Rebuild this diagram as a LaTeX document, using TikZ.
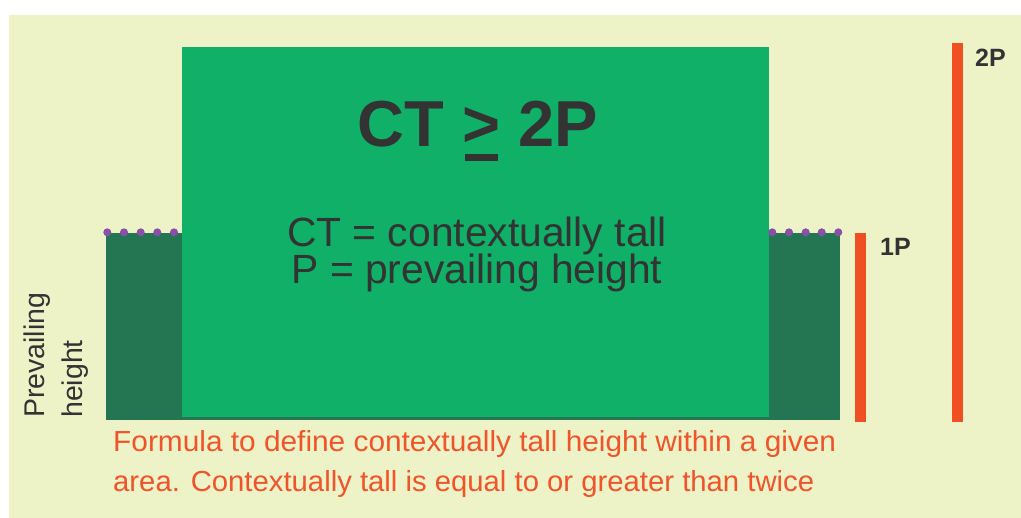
\documentclass[tikz,border=0pt]{standalone}
\usepackage{fontspec}
\usepackage{graphicx}
\setmainfont{Liberation Sans}
\definecolor{bgc}{RGB}{237,242,199}
\definecolor{maingreen}{RGB}{16,176,104}
\definecolor{darkgreen}{RGB}{36,117,82}
\definecolor{barorange}{RGB}{240,78,35}
\definecolor{txtorange}{RGB}{239,84,42}
\definecolor{dotpurple}{RGB}{138,80,168}
\definecolor{txtdark}{RGB}{51,51,51}
\tikzset{
  blockfill/.style={fill=#1, draw=none},
  dotmark/.style={fill=dotpurple, draw=none},
  barfill/.style={fill=barorange, draw=none},
  darktext/.style={text=txtdark, inner sep=0pt},
  orangetext/.style={text=txtorange, inner sep=0pt, anchor=base west, font=\fontsize{29}{34}\selectfont},
  sidetext/.style={text=txtdark, inner sep=0pt, anchor=base west, rotate=90, font=\fontsize{28.5}{34}\selectfont},
  barlabel/.style={text=txtdark, inner sep=0pt, anchor=base west, font=\fontsize{25}{30}\selectfont\bfseries}
}
\begin{document}
\begin{tikzpicture}[x=1pt,y=-1pt]
\useasboundingbox (0,0) rectangle (1021,518);
% background
\fill[white] (0,0) rectangle (1021,518);
\fill[bgc] (9,15) rectangle (1021,518);
% dark prevailing block (base strip)
\fill[darkgreen] (105.5,233.5) rectangle (840,420.5);
% main tall block
\fill[maingreen] (182,47) rectangle (769,417);
% dotted tops
\foreach \x in {107.3,124,140.7,157.3,174,772.3,789,805.7,821.7,838.3}
  \fill[dotmark] (\x,232.3) circle (4);
% orange bars
\fill[barorange] (854.5,233) rectangle (865.5,422);
\fill[barorange] (951.5,43) rectangle (962.5,422);
% labels of bars
\node[barlabel] (lbltwo) at (975,67) {2P};
\node[barlabel] (lblone) at (880,256) {1P};
% title
\node[darktext, anchor=base, font=\fontsize{65}{70}\selectfont\bfseries] (title) at (478,147)
  {CT \rlap{\hspace{0.04em}\raisebox{-0.215em}{\rule{0.5em}{0.11em}}}> 2P};
% definitions
\node[darktext, anchor=base, font=\fontsize{40.8}{44}\selectfont] (defct) at (477,247) {CT = contextually tall};
\node[darktext, anchor=base, font=\fontsize{40.8}{44}\selectfont] (defp) at (477,284) {P = prevailing height};
% side label
\node[sidetext] (prev) at (45,418) {Prevailing};
\node[sidetext] (hgt) at (82,418) {height};
% caption
\node[orangetext] (capone) at (113,452) {\resizebox{723pt}{\height}{Formula to define contextually tall height within a given}};
\node[orangetext] (captwo) at (113,492) {\resizebox{701pt}{\height}{area. Contextually tall is equal to or greater than twice}};
\end{tikzpicture}
\end{document}
